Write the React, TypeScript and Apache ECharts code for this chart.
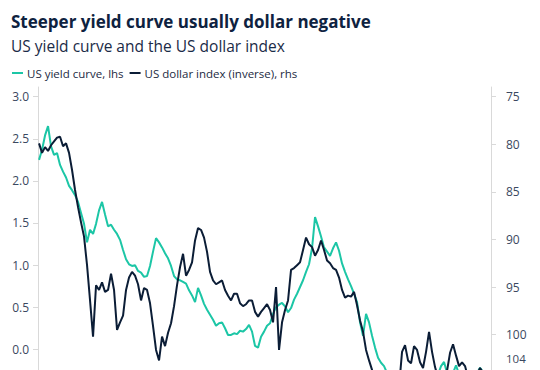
import React, { useEffect, useRef } from "react";
import * as echarts from "echarts";

// US 10y-2y yield curve (lhs, %), sampled at regular intervals
const yieldCurve = [
  2.25, 2.37, 2.54, 2.65, 2.41, 2.31, 2.33, 2.19, 2.11, 2.04,
  1.94, 1.89, 1.83, 1.75, 1.62, 1.49, 1.27, 1.42, 1.37, 1.49,
  1.65, 1.75, 1.6, 1.46, 1.48, 1.42, 1.37, 1.3, 1.18, 1.07,
  1.01, 0.99, 1.0, 0.93, 0.91, 0.86, 0.87, 0.99, 1.16, 1.32,
  1.27, 1.21, 1.14, 1.08, 0.99, 0.87, 0.83, 0.82, 0.8, 0.78,
  0.7, 0.64, 0.56, 0.73, 0.64, 0.54, 0.47, 0.41, 0.35, 0.28,
  0.31, 0.32, 0.25, 0.17, 0.17, 0.19, 0.18, 0.22, 0.21, 0.24,
  0.29, 0.21, 0.04, 0.02, 0.15, 0.21, 0.28, 0.31, 0.42, 0.5,
  0.53, 0.55, 0.51, 0.44, 0.49, 0.59, 0.66, 0.74, 0.82, 0.92,
  1.01, 1.2, 1.57, 1.46, 1.34, 1.21, 1.16, 1.11, 1.2, 1.27,
  1.17, 1.02, 0.92, 0.83, 0.75, 0.66, 0.56, 0.32, 0.16, 0.42,
  0.32, 0.16, 0.02, -0.1, -0.16, -0.2, -0.28, -0.39, -0.48, -0.55,
  -0.6, -0.65, -0.72, -0.8, -0.85, -0.9, -0.95, -1.0, -1.05, -0.95,
  -0.8, -0.6, -0.45, -0.3, -0.2, -0.15, -0.28, -0.35, -0.28, -0.19,
  -0.3, -0.38, -0.4, -0.35, -0.38, -0.32, -0.28, -0.22, -0.27,
];

// US dollar index (rhs, plotted inverted)
const dollarIndex = [
  79.9, 80.9, 80.3, 80.7, 80.1, 79.7, 79.3, 79.2, 80.2, 79.9,
  80.9, 82.7, 84.8, 86.6, 88.2, 89.7, 92.7, 96.4, 100.2, 94.8,
  95.3, 94.5, 95.5, 95.3, 93.6, 95.3, 99.5, 98.7, 98.0, 95.3,
  94.0, 93.4, 93.8, 94.7, 96.4, 95.1, 95.3, 96.7, 99.1, 101.6,
  102.7, 100.2, 101.2, 99.8, 98.8, 97.0, 94.8, 92.9, 91.5, 93.8,
  93.2, 92.4, 90.1, 88.8, 89.0, 89.8, 91.3, 93.4, 94.3, 94.7,
  94.5, 94.3, 95.3, 95.9, 96.4, 95.7, 95.7, 96.7, 97.0, 96.8,
  96.4, 96.4, 97.6, 98.1, 97.6, 97.2, 96.8, 97.4, 98.7, 95.0,
  101.6, 98.7, 97.4, 96.4, 93.2, 93.0, 92.7, 92.4, 91.1, 89.8,
  90.5, 90.8, 91.7, 91.1, 90.1, 91.1, 92.2, 92.5, 93.0, 93.2,
  94.0, 95.3, 96.1, 95.9, 96.0, 95.5, 96.9, 98.5, 99.7, 101.6,
  102.7, 103.7, 105.5, 107.0, 108.5, 110.0, 111.0, 113.0, 112.0, 109.0,
  105.5, 101.8, 101.1, 102.7, 103.0, 101.2, 101.6, 102.9, 103.5, 101.8,
  99.7, 101.8, 103.4, 104.5, 105.5, 105.0, 103.8, 101.9, 101.0, 102.2,
  103.3, 102.9, 103.3, 104.5, 105.0, 104.8, 104.2, 103.5, 104.0,
];

const leftTicks = [0, 0.5, 1, 1.5, 2, 2.5, 3];
const rightTicks = [75, 80, 85, 90, 95, 100];
const rightLabels = [75, 80, 85, 90, 95, 100, 104];

const DAY = 86400000;
const START = Date.UTC(2014, 5, 2);
const STEP_DAYS = 26;
const dates = yieldCurve.map((_, i) => START + i * STEP_DAYS * DAY);

const TEAL = "#1cc6a6";
const NAVY = "#0b1d36";
const LABEL = "#3a4860";
const AXIS = "#d9d9d9";
const FONT = "'Open Sans', 'Noto Sans', sans-serif";

export default function App() {
  const ref = useRef<HTMLDivElement>(null);

  useEffect(() => {
    if (!ref.current) return;
    const chart = echarts.init(ref.current, undefined, { renderer: "svg" });
    chart.setOption({
      animation: false,
      textStyle: { fontFamily: FONT },
      title: [
        {
          text: "Steeper yield curve usually dollar negative",
          left: 6,
          top: 8,
          textStyle: { fontSize: 17, fontWeight: "bold", color: "#0e2240", fontFamily: FONT },
        },
        {
          text: "US yield curve and the US dollar index",
          left: 6,
          top: 33,
          textStyle: { fontSize: 15.5, fontWeight: "normal", color: "#1a2b47", fontFamily: FONT },
        },
      ],
      legend: {
        left: 7,
        top: 62,
        icon: "rect",
        itemWidth: 11,
        itemHeight: 2,
        itemGap: 6,
        textStyle: { fontSize: 11.5, color: "#1c2a42", fontFamily: FONT, padding: [0, 0, 0, -1] },
        data: ["US yield curve, lhs", "US dollar index (inverse), rhs"],
      },
      grid: { left: 38, right: 49, top: 87, bottom: 20 },
      xAxis: {
        type: "time",
        min: START - 9 * DAY,
        max: START + 3917 * DAY,
        show: false,
      },
      yAxis: [
        {
          type: "value",
          position: "left",
          min: -0.8397,
          max: 3.1152,
          splitLine: { show: false },
          axisLine: { show: true, lineStyle: { color: AXIS, width: 1 } },
          axisTick: { show: true, length: 5, customValues: leftTicks, lineStyle: { color: AXIS } },
          axisLabel: {
            customValues: leftTicks,
            formatter: (v: number) => v.toFixed(1),
            color: LABEL,
            fontSize: 12,
            margin: 9,
            fontFamily: FONT,
          },
        },
        {
          type: "value",
          position: "right",
          inverse: true,
          min: 73.981,
          max: 108.96,
          splitLine: { show: false },
          axisLine: { show: true, lineStyle: { color: AXIS, width: 1 } },
          axisTick: { show: true, length: 5, customValues: rightTicks, lineStyle: { color: AXIS } },
          axisLabel: {
            customValues: rightLabels,
            formatter: (v: number) => (v === 104 ? "{s|104}" : String(v)),
            color: LABEL,
            fontSize: 12,
            margin: 15,
            fontFamily: FONT,
            rich: {
              s: { color: LABEL, fontSize: 11.5, fontFamily: FONT, padding: [0, 0, 28, 0] },
            },
          },
        },
      ],
      series: [
        {
          name: "US yield curve, lhs",
          type: "line",
          yAxisIndex: 0,
          showSymbol: false,
          symbol: "none",
          color: TEAL,
          lineStyle: { color: TEAL, width: 2 },
          data: dates.map((d, i) => [d, yieldCurve[i]]),
        },
        {
          name: "US dollar index (inverse), rhs",
          type: "line",
          yAxisIndex: 1,
          showSymbol: false,
          symbol: "none",
          color: NAVY,
          lineStyle: { color: NAVY, width: 2 },
          data: dates.map((d, i) => [d, dollarIndex[i]]),
        },
      ],
    });
    return () => chart.dispose();
  }, []);

  return (
    <div
      style={{
        position: "absolute",
        left: 0,
        top: 0,
        width: 540,
        height: 370,
        overflow: "hidden",
        background: "#ffffff",
      }}
    >
      <div ref={ref} style={{ width: 540, height: 440 }} />
    </div>
  );
}
